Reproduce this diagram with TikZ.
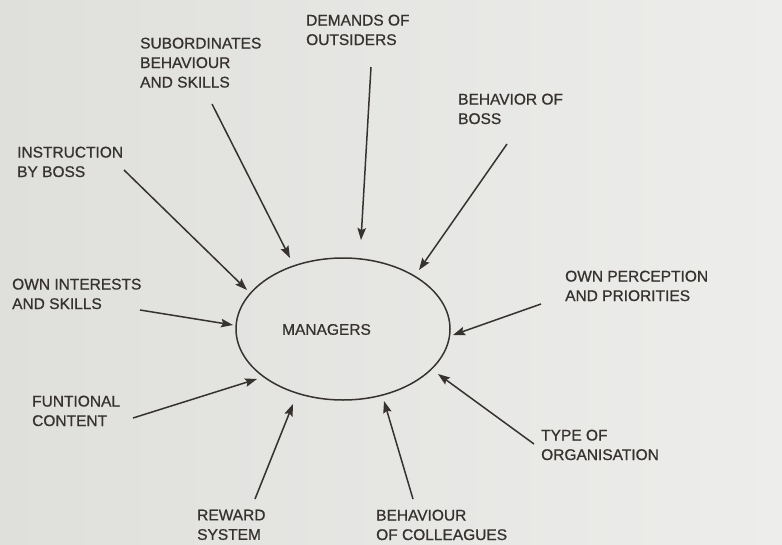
\documentclass[tikz,border=0pt]{standalone}
\usepackage{fontspec}
\setmainfont{Liberation Sans}
\newfontfamily\labelfont[FakeBold=0.8]{Liberation Sans}
\usetikzlibrary{arrows.meta,shapes.geometric}
\definecolor{ink}{HTML}{36322F}
\definecolor{paperL}{HTML}{DFDFDC}
\definecolor{paperR}{HTML}{EDEDEB}
\begin{document}
\begin{tikzpicture}[x=1pt,y=-1pt,
  lbl/.style={anchor=north west,inner sep=0pt,align=left,text=ink,
    font=\labelfont\fontsize{15.5}{19.5}\selectfont},
  infl/.style={draw=ink,line width=1.5pt,
    -{Stealth[length=12pt,width=8.5pt,inset=2pt]}},
  hub/.style={draw=ink,line width=1.5pt,ellipse,inner sep=0pt,
    minimum width=214pt,minimum height=142pt}]
  % paper
  \shade[left color=paperL,right color=paperR] (0,0) rectangle (782,544);
  \useasboundingbox (0,0) rectangle (782,544);

  % central ellipse
  \node[hub] (mgr) at (343,329) {};
  \node[text=ink,inner sep=0pt,font=\labelfont\fontsize{15.5}{19.5}\selectfont]
    (mgrtext) at (326.5,329.5) {MANAGERS};

  % influences
  \node[lbl] (outs) at (306,14.5) {DEMANDS OF\\OUTSIDERS};
  \node[lbl] (subs) at (140,37.5) {SUBORDINATES\\BEHAVIOUR\\AND SKILLS};
  \node[lbl] (inst) at (17,146.5) {INSTRUCTION\\BY BOSS};
  \node[lbl] (boss) at (458,93.5) {BEHAVIOR OF\\BOSS};
  \node[lbl] (perc) at (565,270.5) {OWN PERCEPTION\\AND PRIORITIES};
  \node[lbl] (intr) at (12,278.5) {OWN INTERESTS\\AND SKILLS};
  \node[lbl] (func) at (32,395.5) {FUNTIONAL\\CONTENT};
  \node[lbl] (rewd) at (197,509.5) {REWARD\\SYSTEM};
  \node[lbl] (coll) at (376,509.5) {BEHAVIOUR\\OF COLLEAGUES};
  \node[lbl] (orgn) at (541,429.5) {TYPE OF\\ORGANISATION};

  % arrow ends
  \coordinate (outsA) at (371,67);   \coordinate (outsB) at (361,240);
  \coordinate (subsA) at (212,104);  \coordinate (subsB) at (290,258);
  \coordinate (instA) at (124,170);  \coordinate (instB) at (247,290);
  \coordinate (bossA) at (507,144);  \coordinate (bossB) at (419,270);
  \coordinate (intrA) at (140,310);  \coordinate (intrB) at (233,325);
  \coordinate (funcA) at (133,418);  \coordinate (funcB) at (257,379);
  \coordinate (rewdA) at (255,499);  \coordinate (rewdB) at (293,404);
  \coordinate (collA) at (413,499);  \coordinate (collB) at (384,401);
  \coordinate (percA) at (541,304);  \coordinate (percB) at (453,335);
  \coordinate (orgnA) at (534,444);  \coordinate (orgnB) at (438,374);

  \foreach \k in {outs,subs,inst,boss,intr,func,rewd,coll,perc,orgn}
    \draw[infl] (\k A) -- (\k B);
\end{tikzpicture}
\end{document}
